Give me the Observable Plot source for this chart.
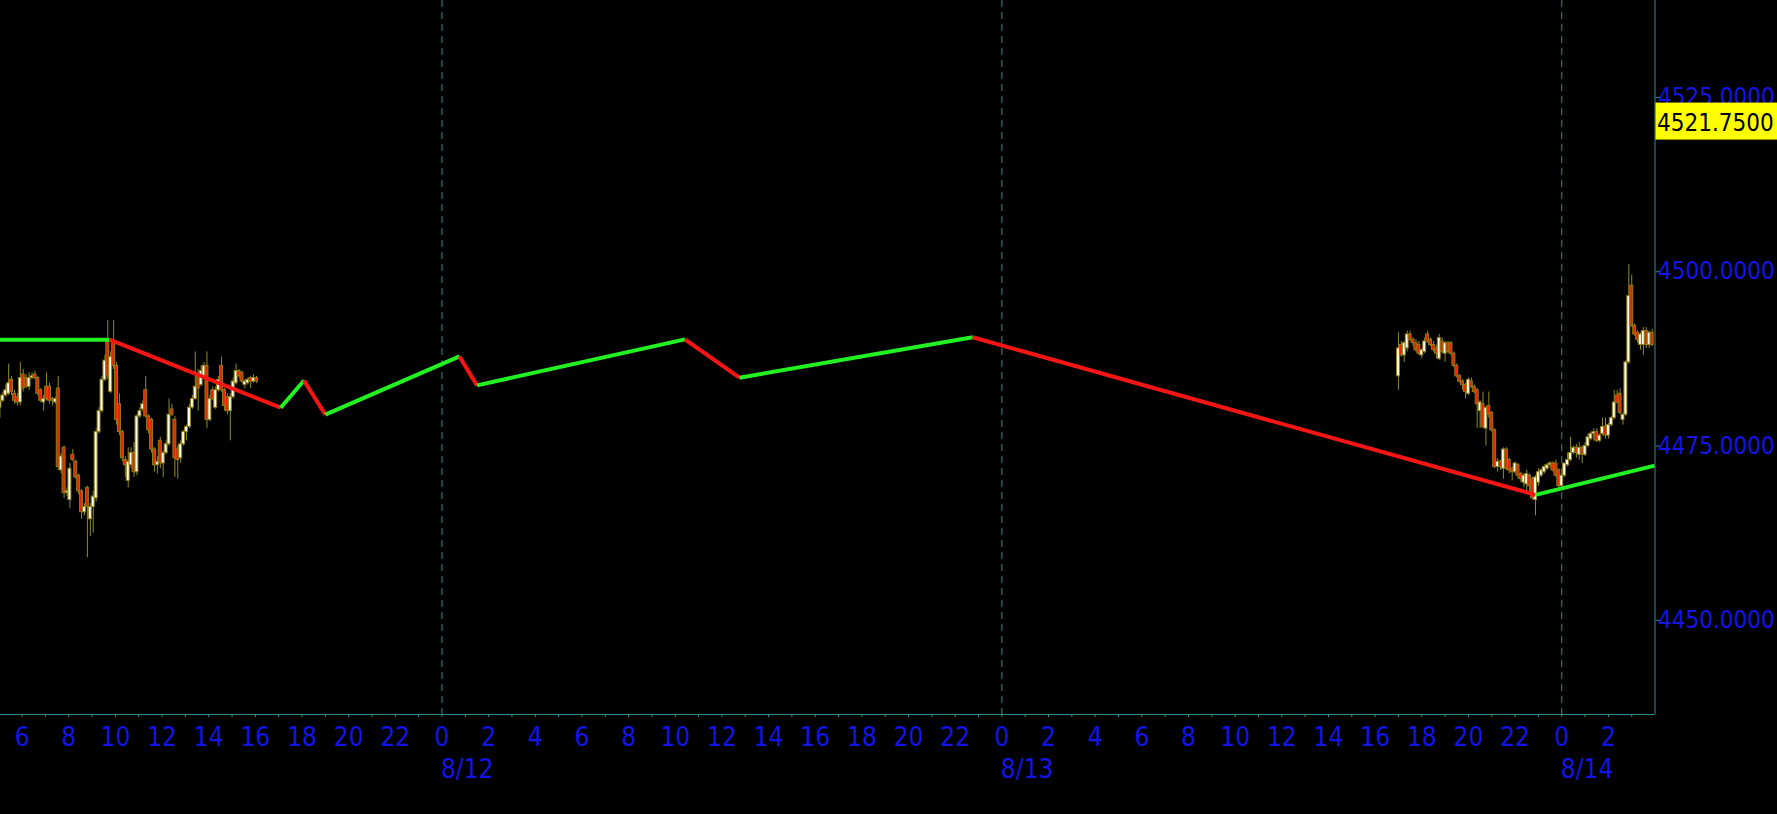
<!DOCTYPE html>
<html>
<head>
<meta charset="utf-8">
<script src="https://cdn.jsdelivr.net/npm/d3@7"></script>
<script src="https://cdn.jsdelivr.net/npm/@observablehq/plot@0.6"></script>
<style>
html, body { margin: 0; padding: 0; background: #000; overflow: hidden; }
#chart svg { display: block; }
</style>
</head>
<body>
<div id="chart"></div>
<script>
// ---------------- data ----------------
const barMinutes = 7.5;
const leftStart = "2023-08-11T05:03:00Z";
const rightStart = "2023-08-13T17:00:00Z";

// [open, high, low, close]
const leftBars = [
  [4480.5,4482.0,4479.0,4481.5],[4481.5,4482.75,4481.25,4482.25],[4482.25,4483.75,4482.0,4483.0],
  [4482.5,4486.75,4482.25,4484.0],[4484.5,4485.0,4482.25,4482.75],[4482.5,4483.0,4481.0,4481.5],
  [4482.0,4482.5,4480.75,4481.25],[4481.25,4487.0,4480.75,4484.75],[4485.25,4486.0,4482.75,4483.25],
  [4484.75,4485.25,4483.25,4483.5],[4483.5,4485.5,4483.0,4484.75],[4484.75,4485.5,4484.5,4485.0],
  [4485.25,4485.75,4484.5,4484.75],[4484.75,4485.0,4482.25,4482.5],[4483.0,4483.25,4481.25,4481.5],
  [4481.25,4482.25,4480.0,4481.75],[4483.5,4485.5,4481.5,4481.75],[4483.5,4484.0,4481.0,4481.5],
  [4481.75,4482.0,4480.75,4481.5],[4481.25,4482.0,4481.0,4481.75],[4483.25,4485.0,4471.5,4472.0],
  [4471.5,4474.0,4471.0,4473.5],[4474.75,4475.0,4467.5,4468.25],[4468.25,4469.0,4467.75,4468.5],
  [4467.25,4472.5,4466.0,4471.75],[4473.75,4474.5,4472.75,4473.0],[4472.75,4473.0,4470.25,4470.5],
  [4470.75,4471.0,4468.0,4468.5],[4468.5,4468.75,4464.5,4465.5],[4465.5,4466.75,4465.0,4466.25],
  [4469.0,4469.25,4459.0,4466.25],[4464.5,4466.75,4462.0,4466.25],[4466.25,4468.5,4462.5,4467.75],
  [4467.5,4477.5,4467.0,4477.0],[4477.0,4480.5,4476.75,4480.0],[4480.0,4485.0,4479.75,4484.5],
  [4484.5,4488.0,4484.25,4487.25],[4490.0,4493.0,4484.5,4485.0],[4482.75,4488.5,4482.5,4487.75],
  [4490.0,4493.0,4486.0,4486.5],[4486.5,4487.0,4478.0,4478.75],[4481.0,4482.5,4476.5,4477.0],
  [4477.0,4477.25,4472.75,4473.25],[4473.0,4473.5,4470.5,4472.25],[4470.0,4474.75,4469.0,4472.75],
  [4472.25,4474.75,4471.75,4474.0],[4474.0,4475.5,4470.5,4471.25],[4471.25,4479.5,4470.75,4479.25],
  [4479.25,4480.5,4479.0,4480.0],[4480.25,4481.5,4480.0,4481.0],[4483.0,4485.0,4479.0,4479.25],
  [4479.25,4479.5,4476.75,4477.25],[4478.75,4479.0,4474.0,4474.5],[4474.5,4474.75,4471.25,4472.25],
  [4472.25,4473.5,4471.0,4472.75],[4475.75,4476.25,4471.75,4472.5],[4472.5,4474.25,4470.5,4474.0],
  [4474.0,4475.75,4473.75,4475.25],[4475.25,4481.75,4475.0,4479.5],[4480.25,4481.0,4479.25,4479.5],
  [4478.75,4479.25,4470.5,4473.25],[4474.5,4475.0,4470.25,4473.0],[4473.25,4475.75,4472.5,4475.25],
  [4475.25,4477.25,4475.0,4477.0],[4477.0,4478.0,4475.75,4477.75],[4477.75,4481.0,4477.5,4480.5],
  [4480.5,4482.25,4480.25,4481.75],[4481.75,4488.5,4481.5,4483.5],[4485.0,4486.0,4480.0,4483.25],
  [4483.75,4486.5,4483.5,4485.75],[4485.0,4487.0,4484.75,4486.5],[4486.5,4488.5,4477.5,4478.75],
  [4478.75,4482.25,4478.5,4481.75],[4483.0,4483.5,4481.5,4481.75],[4480.5,4483.5,4480.25,4483.0],
  [4483.0,4485.0,4482.75,4484.5],[4486.5,4487.75,4482.75,4483.0],[4483.0,4483.25,4480.0,4480.75],
  [4482.0,4482.5,4479.5,4480.0],[4480.0,4482.5,4475.75,4482.0],[4482.0,4484.75,4481.75,4484.25],
  [4484.0,4486.75,4483.75,4485.75],[4485.75,4486.0,4484.75,4485.0],[4485.5,4485.75,4484.0,4484.25],
  [4483.75,4484.5,4483.25,4484.25],[4484.0,4484.75,4483.75,4484.5],[4484.75,4485.0,4483.25,4484.25],
  [4484.25,4485.25,4484.0,4484.75],[4484.75,4485.0,4484.0,4484.25]
];

const rightBars = [
  [4485.0,4491.25,4483.0,4489.0],[4489.5,4490.0,4487.75,4488.0],[4488.0,4490.0,4487.0,4489.75],
  [4489.0,4491.5,4488.5,4491.0],[4491.0,4491.5,4490.0,4490.25],[4490.25,4490.5,4489.25,4489.75],
  [4489.75,4490.25,4488.5,4488.75],[4489.5,4490.0,4488.0,4488.25],[4488.0,4489.0,4487.5,4488.75],
  [4488.5,4490.5,4488.25,4490.0],[4491.0,4491.5,4489.75,4490.0],[4490.25,4490.5,4489.25,4489.5],
  [4489.5,4490.0,4488.5,4488.75],[4489.0,4489.5,4487.5,4488.25],[4487.5,4491.0,4487.25,4490.5],
  [4490.0,4490.5,4488.25,4488.5],[4488.25,4490.0,4487.0,4489.75],[4489.75,4490.0,4488.25,4488.5],
  [4489.75,4490.0,4488.0,4488.25],[4488.25,4488.5,4486.25,4486.5],[4486.5,4486.75,4484.75,4485.0],
  [4485.0,4485.25,4484.0,4484.25],[4484.25,4484.5,4483.0,4483.75],[4483.75,4484.0,4481.75,4482.75],
  [4482.5,4484.75,4482.25,4484.5],[4484.25,4484.75,4483.25,4483.5],[4483.5,4483.75,4482.5,4482.75],
  [4483.0,4483.25,4477.5,4481.0],[4480.0,4481.5,4477.5,4481.25],[4481.0,4482.75,4477.5,4477.75],
  [4477.5,4478.0,4475.0,4480.5],[4480.75,4482.75,4479.0,4479.5],[4479.75,4480.0,4477.0,4477.25],
  [4477.25,4477.5,4471.75,4472.0],[4472.0,4473.25,4471.25,4472.75],[4472.75,4473.0,4471.5,4472.0],
  [4471.75,4474.75,4470.25,4474.5],[4474.5,4474.75,4471.5,4471.75],[4473.0,4473.25,4471.0,4471.5],
  [4471.75,4472.0,4470.0,4471.25],[4471.25,4472.75,4471.0,4472.5],[4472.25,4472.5,4470.25,4470.75],
  [4471.0,4471.25,4469.75,4470.25],[4469.75,4471.0,4469.0,4470.75],[4469.5,4471.5,4468.5,4471.0],
  [4470.75,4471.0,4468.5,4469.25],[4470.25,4470.5,4467.25,4467.5],[4467.25,4470.75,4465.0,4470.5],
  [4469.75,4471.75,4469.25,4471.25],[4470.75,4471.75,4470.5,4471.5],[4471.25,4472.25,4471.0,4472.0],
  [4471.75,4472.5,4471.5,4472.25],[4472.25,4472.75,4471.75,4472.5],[4472.5,4472.75,4471.25,4471.5],
  [4472.5,4473.0,4470.5,4470.75],[4471.5,4471.75,4469.0,4469.25],[4469.25,4471.0,4469.0,4470.75],
  [4470.75,4472.5,4470.5,4472.5],[4472.25,4474.0,4472.0,4473.0],[4473.0,4476.25,4472.75,4474.0],
  [4474.0,4475.0,4473.75,4474.75],[4474.75,4475.25,4473.25,4474.0],[4473.75,4475.5,4473.0,4474.75],
  [4474.75,4475.0,4472.5,4473.75],[4473.75,4475.5,4473.5,4475.0],[4475.0,4476.75,4474.75,4476.25],
  [4476.0,4477.0,4475.75,4476.75],[4476.75,4477.5,4475.75,4477.0],[4477.0,4477.5,4475.5,4475.75],
  [4475.75,4476.75,4475.5,4476.5],[4476.75,4479.0,4476.5,4477.75],[4477.75,4479.0,4476.0,4476.5],
  [4476.5,4478.25,4476.0,4478.0],[4478.0,4479.25,4477.75,4479.0],[4479.0,4483.0,4478.75,4481.25],
  [4482.25,4483.0,4481.0,4481.25],[4482.5,4483.25,4479.5,4479.75],[4478.75,4479.75,4478.0,4479.5],
  [4479.5,4487.25,4479.25,4487.0],[4487.0,4501.0,4486.75,4496.5],[4498.0,4499.5,4492.0,4492.25],
  [4492.25,4492.5,4490.75,4491.0],[4491.25,4491.5,4489.75,4490.25],[4489.5,4491.25,4488.75,4491.0],
  [4489.5,4492.0,4488.0,4491.5],[4491.5,4492.0,4489.0,4489.5],[4489.5,4491.5,4489.0,4491.25],
  [4491.25,4491.75,4489.25,4489.5]
];

// zigzag pivots
const pivotTimes = [
  "2023-08-11T05:00:00Z","2023-08-11T09:45:00Z","2023-08-11T17:05:00Z","2023-08-11T18:05:00Z",
  "2023-08-11T19:00:00Z","2023-08-12T00:45:00Z","2023-08-12T01:30:00Z","2023-08-12T10:25:00Z",
  "2023-08-12T12:45:00Z","2023-08-12T22:45:00Z","2023-08-13T22:52:30Z","2023-08-14T03:59:00Z"
];
const pivotValues = [4490.25,4490.25,4480.5,4484.4,4479.5,4487.85,4483.7,4490.3,4484.8,4490.6,4468.0,4472.2];

const yTicks = [4450, 4475, 4500, 4525];
const dayStarts = ["2023-08-12T00:00:00Z","2023-08-13T00:00:00Z","2023-08-14T00:00:00Z"];
const dayLabels = ["8/12","8/13","8/14"];
const lastPrice = 4521.75;
const xDomain = ["2023-08-11T05:04:30Z","2023-08-14T03:59:50Z"];
const yDomain = [4436.5, 4538.9];

// ---------------- styles ----------------
const TEAL = "#2f8f8f", BLUE = "#1414e6", WICK = "#8f8c20", EDGE = "#8f7c16";
const BULL = "#fffff0", BEAR = "#f02000", UP = "#22f222", DOWN = "#f51515";
const FONT = "DejaVu Sans Condensed";

// ---------------- build ----------------
const toBars = (start, bars) => bars.map((b, i) => {
  const t = new Date(+new Date(start) + i * barMinutes * 60000);
  return {t, o: b[0], h: b[1], l: b[2], c: b[3]};
});
const candles = toBars(leftStart, leftBars).concat(toBars(rightStart, rightBars));
const halfBody = 3.8 * 60000;

const pivots = pivotTimes.map((t, i) => ({t: new Date(t), v: pivotValues[i]}));
const segments = d3.pairs(pivots).map(([a, b]) => ({t1: a.t, v1: a.v, t2: b.t, v2: b.v}));
const days = dayStarts.map((d, i) => ({t: new Date(d), label: dayLabels[i]}));

const plot = Plot.plot({
  width: 1777,
  height: 814,
  marginLeft: 0,
  marginRight: 122.5,
  marginTop: 0,
  marginBottom: 100,
  style: {background: "#000", overflow: "visible", fontFamily: FONT},
  x: {type: "utc", domain: xDomain.map(d => new Date(d)), label: null},
  y: {domain: yDomain, label: null},
  marks: [
    Plot.ruleX(days, {x: "t", stroke: TEAL, strokeDasharray: "7,5", strokeWidth: 1}),
    Plot.ruleX(candles, {x: "t", y1: "l", y2: "h", stroke: WICK, strokeWidth: 1}),
    Plot.rect(candles, {
      x1: d => new Date(+d.t - halfBody), x2: d => new Date(+d.t + halfBody),
      y1: "o", y2: "c",
      fill: d => d.c >= d.o ? BULL : BEAR, stroke: EDGE, strokeWidth: 1
    }),
    Plot.link(segments, {
      x1: "t1", y1: "v1", x2: "t2", y2: "v2",
      stroke: d => d.v2 >= d.v1 ? UP : DOWN, strokeWidth: 4, strokeLinecap: "butt"
    }),
    Plot.ruleY([yDomain[0]], {stroke: TEAL}),
    Plot.ruleX([new Date(xDomain[1])], {stroke: TEAL}),
    Plot.axisX({ticks: d3.utcHour.every(1), tickSize: 3, color: TEAL, tickFormat: () => "", label: null}),
    Plot.axisX({ticks: d3.utcHour.every(2), tickSize: 0, tickPadding: 13, color: BLUE,
      fontSize: 26, fontFamily: FONT, tickFormat: d => d.getUTCHours(), label: null}),
    Plot.text(days, {x: "t", text: "label", frameAnchor: "bottom", dy: 63, dx: -1, textAnchor: "start",
      fill: BLUE, fontSize: 26, fontFamily: FONT}),
    Plot.axisY(yTicks, {anchor: "right", tickSize: 5, color: TEAL, tickFormat: () => "", label: null}),
    Plot.axisY(yTicks, {anchor: "right", tickSize: 0, tickPadding: 3, color: BLUE, fontSize: 24,
      fontFamily: FONT, tickFormat: d => d.toFixed(4), textAnchor: "start", label: null})
  ]
});

// last-price tag drawn with the plot's own y scale
const ys = plot.scale("y").apply(lastPrice);
const xr = plot.scale("x").range[1];
const tag = d3.select(plot).append("g").attr("text-anchor", "start");
tag.append("rect").attr("x", xr + 1).attr("y", ys - 17).attr("width", 1777 - xr).attr("height", 37).attr("fill", "#ffff00");
tag.append("text").attr("x", xr + 2.5).attr("y", ys + 2.5).attr("dy", "0.36em").attr("text-anchor", "start")
  .attr("fill", "#000").attr("font-size", 24).attr("font-family", FONT)
  .text(lastPrice.toFixed(4));

document.getElementById("chart").appendChild(plot);
</script>
</body>
</html>
